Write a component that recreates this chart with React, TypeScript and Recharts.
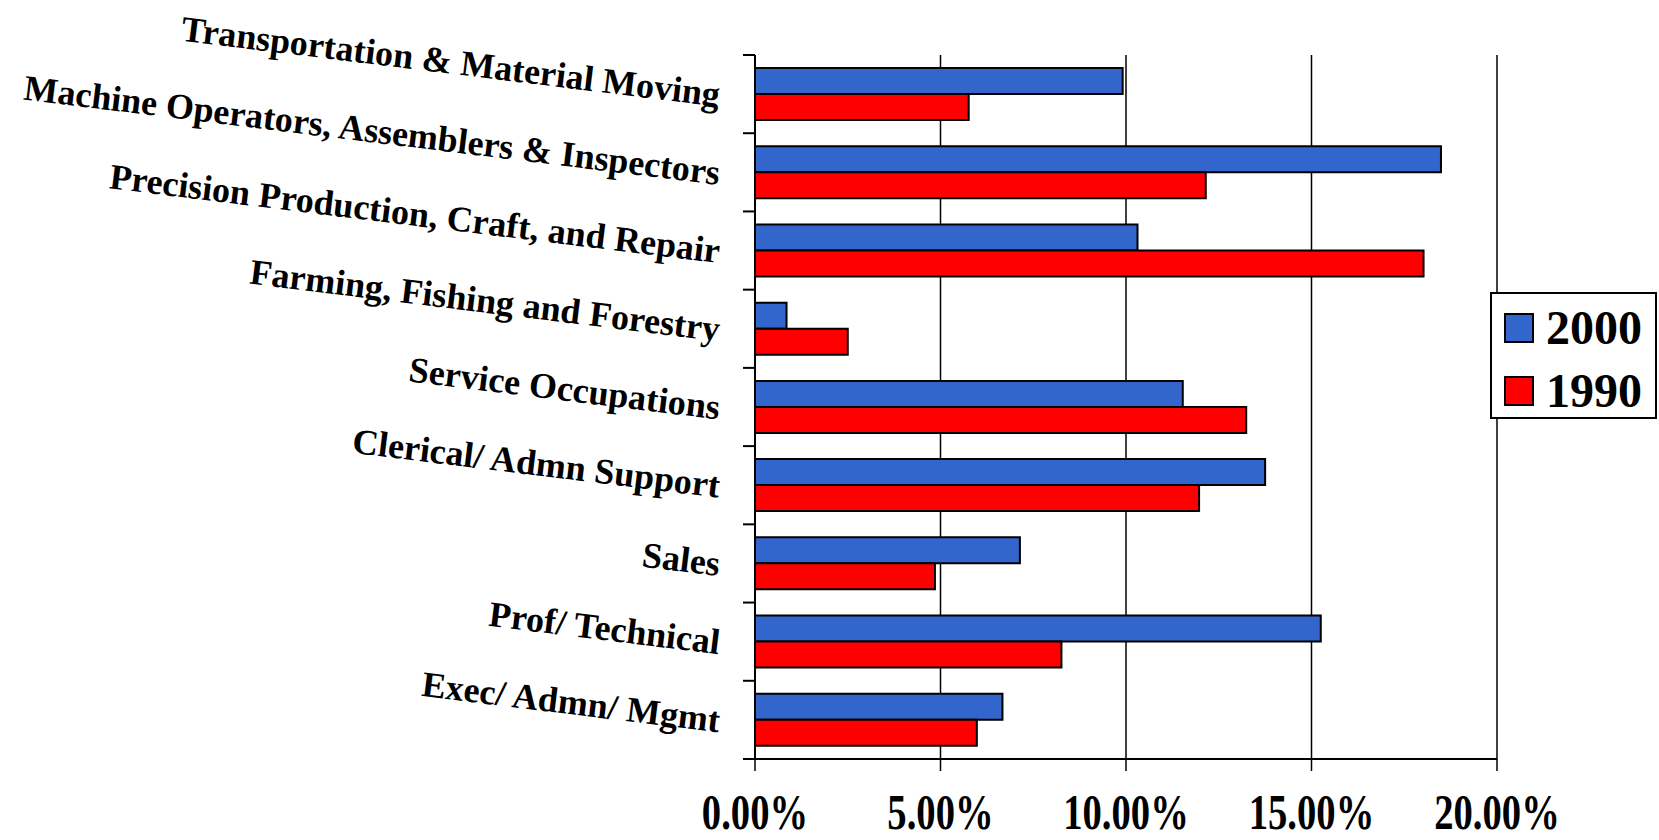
import React from 'react';
import {
  BarChart,
  Bar,
  XAxis,
  YAxis,
  CartesianGrid,
} from 'recharts';

const categories = [
  'Transportation & Material Moving',
  'Machine Operators, Assemblers & Inspectors',
  'Precision Production, Craft, and Repair',
  'Farming, Fishing and Forestry',
  'Service Occupations',
  'Clerical/ Admn Support',
  'Sales',
  'Prof/ Technical',
  'Exec/ Admn/ Mgmt',
];

const values2000 = [9.91, 18.49, 10.31, 0.85, 11.53, 13.75, 7.14, 15.25, 6.67];
const values1990 = [5.76, 12.15, 18.02, 2.5, 13.24, 11.97, 4.85, 8.26, 5.98];

const xTicks = [0, 5, 10, 15, 20];

const seriesNames = ['2000', '1990'];
const seriesColors = ['#3366CC', '#FF0000'];

const W = 1659;
const H = 840;
const TOP = 55;
const BOTTOM_AXIS = 81;
const BAND = (H - TOP - BOTTOM_AXIS) / categories.length;

const FONT = '"Liberation Serif", "Times New Roman", serif';

const chartData = categories.map((name, i) => ({
  name,
  v2000: values2000[i],
  v1990: values1990[i],
}));

// category ticks sit on the band edges, labels are tilted down to the right
const YTick = (props: any) => {
  const { x, y, payload, index } = props;
  const last = index === categories.length - 1;
  return (
    <g>
      <line x1={x - 12} x2={x} y1={y - BAND / 2} y2={y - BAND / 2} stroke="#000" strokeWidth={2} />
      {last && (
        <line x1={x - 12} x2={x} y1={y + BAND / 2} y2={y + BAND / 2} stroke="#000" strokeWidth={2} />
      )}
      <text
        transform={`translate(${x - 35},${y}) rotate(7)`}
        textAnchor="end"
        dy="0.35em"
        fontSize={36}
        fontWeight="bold"
        fontFamily={FONT}
        fill="#000"
      >
        {payload.value}
      </text>
    </g>
  );
};

const XTick = (props: any) => {
  const { x, y, payload } = props;
  return (
    <text
      transform={`translate(${x},${y + 58}) scale(0.84,1.08)`}
      textAnchor="middle"
      fontSize={46}
      fontWeight="bold"
      fontFamily={FONT}
      fill="#000"
    >
      {payload.value.toFixed(2) + '%'}
    </text>
  );
};

const LegendBox = () => (
  <div
    style={{
      position: 'absolute',
      left: 1490,
      top: 292,
      width: 167,
      height: 127,
      border: '2px solid #000',
      background: '#fff',
      boxSizing: 'border-box',
      fontFamily: FONT,
    }}
  >
    {seriesNames.map((name, i) => (
      <div
        key={name}
        style={{
          position: 'absolute',
          left: 12,
          top: 9 + i * 63,
          height: 50,
          display: 'flex',
          alignItems: 'center',
        }}
      >
        <div
          style={{
            width: 26,
            height: 26,
            background: seriesColors[i],
            border: '2px solid #000',
          }}
        />
        <span
          style={{
            marginLeft: 12,
            fontSize: 48,
            fontWeight: 'bold',
            lineHeight: '50px',
            color: '#000',
          }}
        >
          {name}
        </span>
      </div>
    ))}
  </div>
);

export default function App() {
  return (
    <div style={{ position: 'absolute', left: 0, top: 0, width: W, height: H, background: '#fff' }}>
      <BarChart
        width={W}
        height={H}
        data={chartData}
        layout="vertical"
        margin={{ top: TOP, right: 162, left: 0, bottom: 0 }}
        barSize={26}
        barGap={0}
      >
        <CartesianGrid horizontal={false} stroke="#000" strokeWidth={1.5} />
        <XAxis
          type="number"
          domain={[0, 20]}
          ticks={xTicks}
          interval={0}
          height={BOTTOM_AXIS}
          tickSize={12}
          tickMargin={0}
          tick={<XTick />}
          axisLine={{ stroke: '#000', strokeWidth: 2 }}
          tickLine={{ stroke: '#000', strokeWidth: 1.5 }}
        />
        <XAxis
          xAxisId="top"
          orientation="top"
          type="number"
          domain={[0, 20]}
          height={0}
          tick={false}
          tickLine={false}
          axisLine={{ stroke: '#000', strokeWidth: 1.5 }}
        />
        <YAxis
          type="category"
          dataKey="name"
          width={755}
          interval={0}
          tickSize={0}
          tickMargin={0}
          tickLine={false}
          tick={<YTick />}
          axisLine={{ stroke: '#000', strokeWidth: 2 }}
        />
        <Bar
          dataKey="v2000"
          name={seriesNames[0]}
          fill={seriesColors[0]}
          stroke="#000"
          strokeWidth={2}
          isAnimationActive={false}
        />
        <Bar
          dataKey="v1990"
          name={seriesNames[1]}
          fill={seriesColors[1]}
          stroke="#000"
          strokeWidth={2}
          isAnimationActive={false}
        />
      </BarChart>
      <LegendBox />
    </div>
  );
}
